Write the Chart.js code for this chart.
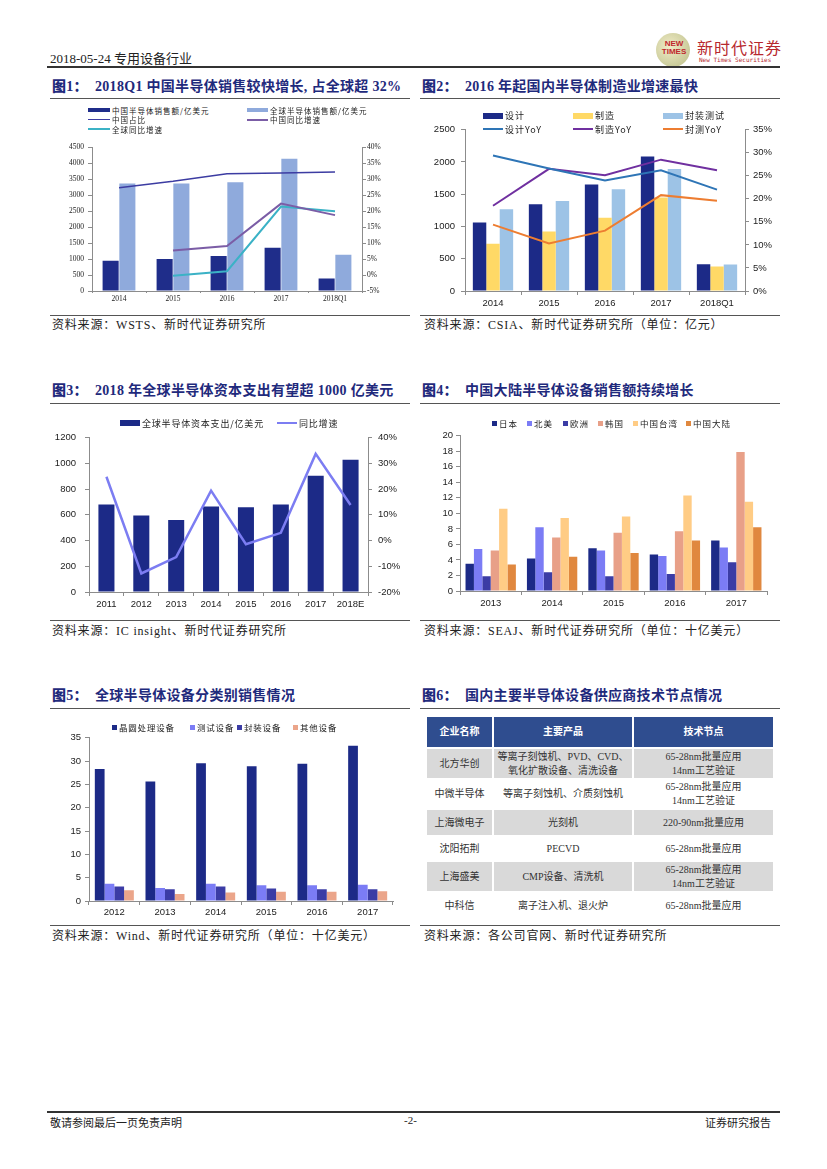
<!DOCTYPE html>
<html>
<head>
<meta charset="utf-8">
<script src="https://cdn.jsdelivr.net/npm/chart.js@4.4.0/dist/chart.umd.min.js"></script>
<style>
  body { margin: 0; background: #fff; }
  #page { position: relative; width: 827px; height: 1169px; overflow: hidden;
          font-family: "Liberation Serif", "Noto Sans CJK SC", serif; color: #222; }
  canvas { position: absolute; }
  .title { position: absolute; font-weight: bold; font-size: 14px; color: #1f2a7c;
           letter-spacing: 0.3px; white-space: nowrap; line-height: 18px; }
  .title b { display: inline-block; width: 43px; }
  .rule { position: absolute; border-top: 1.5px solid #555; height: 0; }
  .src { position: absolute; font-size: 12px; letter-spacing: 0.8px; white-space: nowrap; line-height: 16px; }
  .lg { position: absolute; left: 0; top: 0; }
  .lg .it { position: absolute; display: flex; align-items: center; white-space: nowrap;
            font-family: "Noto Sans CJK SC", sans-serif; color: #222; }
  .lg .it i { display: inline-block; margin-right: 2px; }
  #tbl { position: absolute; left: 425px; top: 715px; border-collapse: collapse; table-layout: fixed;
         font-family: "Liberation Serif", "Noto Sans CJK SC", serif; font-size: 10px; }
  #tbl td, #tbl th { border: 2px solid #fff; padding: 0; text-align: center; line-height: 14px; color: #333; }
  #tbl th { background: #2f4d8f; color: #fff; font-weight: bold; }
  #tbl tr.g td { background: #d9d9d9; }
</style>
</head>
<body>
<div id="page">
  <!-- 页眉 -->
  <div style="position:absolute;left:50px;top:48px;font-size:13px;">2018-05-24 专用设备行业</div>
  <div style="position:absolute;left:656px;top:33px;width:34px;height:34px;border-radius:50%;
       background:radial-gradient(circle at 40% 40%,#f1ecc8,#b9bd86);"></div>
  <div style="position:absolute;left:657px;top:40px;width:34px;font:bold 8px 'Liberation Sans';color:#c0272d;line-height:8px;text-align:center;">NEW<br>TIMES</div>
  <div style="position:absolute;left:697px;top:35px;font-size:16px;color:#b7282e;letter-spacing:1px;font-family:'Noto Sans CJK SC';">新时代证券</div>
  <div style="position:absolute;left:699px;top:56px;font:6px 'DejaVu Sans Mono';color:#b7282e;">New Times Securities</div>
  <div class="rule" style="left:47px;top:66px;width:733px;border-top:2px solid #333;"></div>

  <!-- 标题 -->
  <div class="title" style="left:52px;top:78px;"><b>图1：</b>2018Q1 中国半导体销售较快增长, 占全球超 32%</div>
  <div class="title" style="left:422px;top:78px;"><b>图2：</b>2016 年起国内半导体制造业增速最快</div>
  <div class="title" style="left:52px;top:382px;"><b>图3：</b>2018 年全球半导体资本支出有望超 1000 亿美元</div>
  <div class="title" style="left:422px;top:382px;"><b>图4：</b>中国大陆半导体设备销售额持续增长</div>
  <div class="title" style="left:52px;top:687px;"><b>图5：</b>全球半导体设备分类别销售情况</div>
  <div class="title" style="left:422px;top:687px;"><b>图6：</b>国内主要半导体设备供应商技术节点情况</div>
  <div class="rule" style="left:50px;top:98px;width:360px;"></div>
  <div class="rule" style="left:420px;top:98px;width:360px;"></div>
  <div class="rule" style="left:50px;top:403px;width:360px;"></div>
  <div class="rule" style="left:420px;top:403px;width:360px;"></div>
  <div class="rule" style="left:50px;top:708px;width:360px;"></div>
  <div class="rule" style="left:420px;top:708px;width:360px;"></div>

  <canvas id="c1" width="352" height="166" style="left:50px;top:139px;"></canvas>
  <canvas id="c2" width="360" height="191" style="left:420px;top:118px;"></canvas>
  <canvas id="c3" width="360" height="187" style="left:50px;top:423px;"></canvas>
  <canvas id="c4" width="357" height="182" style="left:420px;top:427px;"></canvas>
  <canvas id="c5" width="353" height="191" style="left:50px;top:728px;"></canvas>
  <div class="lg" id="lg1"></div>
  <div class="lg" id="lg2"></div>
  <div class="lg" id="lg3"></div>
  <div class="lg" id="lg4"></div>
  <div class="lg" id="lg5"></div>

  <table id="tbl">
    <colgroup><col style="width:67px"><col style="width:140px"><col style="width:141px"></colgroup>
    <tr style="height:32px"><th>企业名称</th><th>主要产品</th><th>技术节点</th></tr>
    <tr class="g" style="height:31px"><td>北方华创</td><td>等离子刻蚀机、PVD、CVD、<br>氧化扩散设备、清洗设备</td><td>65-28nm批量应用<br>14nm工艺验证</td></tr>
    <tr style="height:30px"><td>中微半导体</td><td>等离子刻蚀机、介质刻蚀机</td><td>65-28nm批量应用<br>14nm工艺验证</td></tr>
    <tr class="g" style="height:27px"><td>上海微电子</td><td>光刻机</td><td>220-90nm批量应用</td></tr>
    <tr style="height:25px"><td>沈阳拓荆</td><td>PECVD</td><td>65-28nm批量应用</td></tr>
    <tr class="g" style="height:31px"><td>上海盛美</td><td>CMP设备、清洗机</td><td>65-28nm批量应用<br>14nm工艺验证</td></tr>
    <tr style="height:27px"><td>中科信</td><td>离子注入机、退火炉</td><td>65-28nm批量应用</td></tr>
  </table>

  <!-- 资料来源 -->
  <div class="rule" style="left:50px;top:315px;width:360px;"></div>
  <div class="rule" style="left:420px;top:315px;width:360px;"></div>
  <div class="src" style="left:52px;top:317px;">资料来源：WSTS、新时代证券研究所</div>
  <div class="src" style="left:424px;top:317px;">资料来源：CSIA、新时代证券研究所（单位：亿元）</div>
  <div class="rule" style="left:50px;top:620px;width:360px;"></div>
  <div class="rule" style="left:420px;top:620px;width:360px;"></div>
  <div class="src" style="left:52px;top:623px;">资料来源：IC insight、新时代证券研究所</div>
  <div class="src" style="left:424px;top:623px;">资料来源：SEAJ、新时代证券研究所（单位：十亿美元）</div>
  <div class="rule" style="left:50px;top:925px;width:360px;"></div>
  <div class="rule" style="left:420px;top:925px;width:360px;"></div>
  <div class="src" style="left:52px;top:928px;">资料来源：Wind、新时代证券研究所（单位：十亿美元）</div>
  <div class="src" style="left:424px;top:928px;">资料来源：各公司官网、新时代证券研究所</div>

  <!-- 页脚 -->
  <div class="rule" style="left:47px;top:1111px;width:733px;border-top:2px solid #333;"></div>
  <div style="position:absolute;left:50px;top:1114px;font-size:11px;">敬请参阅最后一页免责声明</div>
  <div style="position:absolute;left:404px;top:1114px;font-size:11px;">-2-</div>
  <div style="position:absolute;left:705px;top:1114px;font-size:11px;">证券研究报告</div>
</div>

<script>
// 图1 数据
const years1 = ['2014', '2015', '2016', '2017', '2018Q1'];
const chinaSales = [952, 1003, 1097, 1355, 393];
const globalSales = [3372, 3372, 3414, 4148, 1138];
const chinaShare = [27.4, 29.4, 31.8, 32.0, 32.3];
const chinaYoY = [null, 7.7, 9.1, 22.4, 18.8];
const globalYoY = [null, -0.2, 1.2, 21.5, 20.0];

// 图2 数据
const years2 = ['2014', '2015', '2016', '2017', '2018Q1'];
const design = [1061, 1343, 1652, 2086, 414];
const manufacture = [732, 924, 1136, 1450, 379];
const packTest = [1268, 1394, 1576, 1890, 412];
const designYoY = [29.4, 26.6, 24.0, 26.2, 22.0];
const manufactureYoY = [18.5, 26.5, 25.1, 28.5, 26.2];
const packTestYoY = [14.4, 10.3, 13.1, 20.8, 19.6];

// 图3 数据
const years3 = ['2011', '2012', '2013', '2014', '2015', '2016', '2017', '2018E'];
const capex = [680, 595, 560, 665, 660, 680, 904, 1028];
const capexYoY = [24.8, -12.8, -6.4, 19.4, -1.4, 3.0, 33.7, 13.8];

// 图4 数据
const years4 = ['2013', '2014', '2015', '2016', '2017'];
const japan = [3.5, 4.2, 5.5, 4.7, 6.5];
const northAmerica = [5.4, 8.2, 5.2, 4.5, 5.6];
const europe = [1.9, 2.4, 1.9, 2.2, 3.7];
const korea = [5.2, 6.9, 7.5, 7.7, 17.9];
const taiwan = [10.6, 9.4, 9.6, 12.3, 11.5];
const mainland = [3.4, 4.4, 4.9, 6.5, 8.2];

// 图5 数据
const years5 = ['2012', '2013', '2014', '2015', '2016', '2017'];
const waferEquip = [28.3, 25.6, 29.5, 28.9, 29.4, 33.3];
const testEquip = [3.7, 2.8, 3.7, 3.4, 3.4, 3.5];
const packEquip = [3.1, 2.5, 3.1, 2.7, 2.5, 2.5];
const otherEquip = [2.3, 1.5, 1.8, 2.0, 2.0, 2.1];

Chart.defaults.animation = false;
Chart.defaults.color = '#222';
Chart.defaults.font.family = '"Liberation Sans", Arial, sans-serif';
Chart.defaults.plugins.legend.display = false;
Chart.defaults.plugins.tooltip.enabled = false;

// 坐标轴通用设置
function axis(o) {
  return {
    min: o.min, max: o.max,
    position: o.position || 'left',
    border: { display: true, color: '#8c8c8c', width: 1 },
    grid: { drawOnChartArea: false, drawTicks: true, tickLength: 4, color: '#8c8c8c' },
    ticks: { stepSize: o.step, padding: o.pad, font: o.font, color: '#222', autoSkip: false,
             callback: v => o.pct ? v + '%' : String(v) },
    afterFit: s => { s.width = o.width; }
  };
}
function xAxis(font, h, tick, pad) {
  return {
    border: { display: true, color: '#8c8c8c', width: 1 },
    grid: { drawOnChartArea: false, drawTicks: true, tickLength: tick, color: '#8c8c8c', offset: true },
    ticks: { font: font, padding: pad, color: '#222', maxRotation: 0, autoSkip: false },
    afterFit: s => { s.height = h; }
  };
}

// HTML 图例，文字与颜色取自数据集
function leyenda(chart, id, pos, fontSize) {
  const el = document.getElementById(id);
  el.innerHTML = chart.data.datasets.map((d, i) => {
    const p = pos[i];
    const color = d.type === 'line' ? d.borderColor : d.backgroundColor;
    return `<span class="it" style="left:${p.x}px;top:${p.y - 8}px;height:16px;font-size:${fontSize}px;letter-spacing:${p.ls || 0}px">
      <i style="width:${p.w}px;height:${p.h}px;background:${color}"></i>${d.label}</span>`;
  }).join('');
}

// 图1
const serif7 = { family: '"Liberation Serif", serif', size: 7.5 };
const chart1 = new Chart(document.getElementById('c1'), {
  type: 'bar',
  data: {
    labels: years1,
    datasets: [
      { label: '中国半导体销售额/亿美元', data: chinaSales, backgroundColor: '#1f2d8a', yAxisID: 'y', order: 2,
        categoryPercentage: 0.62, barPercentage: 0.96 },
      { label: '全球半导体销售额/亿美元', data: globalSales, backgroundColor: '#8faadc', yAxisID: 'y', order: 2,
        categoryPercentage: 0.62, barPercentage: 0.96 },
      { type: 'line', label: '中国占比', data: chinaShare, borderColor: '#3c3ca2', borderWidth: 1.5,
        pointRadius: 0, yAxisID: 'y1', order: 1 },
      { type: 'line', label: '中国同比增速', data: chinaYoY, borderColor: '#7b5da6', borderWidth: 2,
        pointRadius: 0, yAxisID: 'y1', order: 1 },
      { type: 'line', label: '全球同比增速', data: globalYoY, borderColor: '#3bb2c6', borderWidth: 2,
        pointRadius: 0, yAxisID: 'y1', order: 1 }
    ]
  },
  options: {
    responsive: false,
    layout: { padding: { top: 8, left: 0, right: 0, bottom: 0 } },
    scales: {
      x: xAxis(serif7, 14, 2, 2),
      y: axis({ min: 0, max: 4500, step: 500, width: 42, pad: 4, font: serif7 }),
      y1: axis({ min: -5, max: 40, step: 5, width: 40, pad: 1, font: serif7, pct: true, position: 'right' })
    }
  }
});
leyenda(chart1, 'lg1', [
  { x: 88, y: 110, w: 22, h: 4, ls: 1 },
  { x: 247, y: 110, w: 21, h: 4, ls: 1 },
  { x: 88, y: 119.5, w: 22, h: 1.5, ls: 1 },
  { x: 247, y: 119.5, w: 21, h: 2, ls: 1 },
  { x: 88, y: 129, w: 22, h: 2, ls: 1 }
], 7.5);

// 图2
const sans9 = { size: 9.5 };
const chart2 = new Chart(document.getElementById('c2'), {
  type: 'bar',
  data: {
    labels: years2,
    datasets: [
      { label: '设计', data: design, backgroundColor: '#1c2a87', yAxisID: 'y', order: 2,
        categoryPercentage: 0.72, barPercentage: 1 },
      { label: '制造', data: manufacture, backgroundColor: '#ffd966', yAxisID: 'y', order: 2,
        categoryPercentage: 0.72, barPercentage: 1 },
      { label: '封装测试', data: packTest, backgroundColor: '#9dc3e6', yAxisID: 'y', order: 2,
        categoryPercentage: 0.72, barPercentage: 1 },
      { type: 'line', label: '设计YoY', data: designYoY, borderColor: '#2e75b6', borderWidth: 2,
        pointRadius: 0, yAxisID: 'y1', order: 1 },
      { type: 'line', label: '制造YoY', data: manufactureYoY, borderColor: '#7030a0', borderWidth: 2,
        pointRadius: 0, yAxisID: 'y1', order: 1 },
      { type: 'line', label: '封测YoY', data: packTestYoY, borderColor: '#ed7d31', borderWidth: 2,
        pointRadius: 0, yAxisID: 'y1', order: 1 }
    ]
  },
  options: {
    responsive: false,
    layout: { padding: { top: 8, left: 0, right: 0, bottom: 0 } },
    scales: {
      x: xAxis(sans9, 18, 4, 3),
      y: axis({ min: 0, max: 2500, step: 500, width: 45, pad: 6, font: sans9 }),
      y1: axis({ min: 0, max: 35, step: 5, width: 35, pad: 4, font: sans9, pct: true, position: 'right' })
    }
  }
});
leyenda(chart2, 'lg2', [
  { x: 483, y: 115.5, w: 20, h: 6, ls: 1 },
  { x: 573, y: 115.5, w: 20, h: 6, ls: 1 },
  { x: 663, y: 115.5, w: 20, h: 6, ls: 1 },
  { x: 483, y: 129, w: 20, h: 2, ls: 1 },
  { x: 573, y: 129, w: 20, h: 2, ls: 1 },
  { x: 663, y: 129, w: 20, h: 2, ls: 1 }
], 9);

// 图3
const chart3 = new Chart(document.getElementById('c3'), {
  type: 'bar',
  data: {
    labels: years3,
    datasets: [
      { label: '全球半导体资本支出/亿美元', data: capex, backgroundColor: '#1c2a87', yAxisID: 'y', order: 2,
        categoryPercentage: 1, barPercentage: 0.46 },
      { type: 'line', label: '同比增速', data: capexYoY, borderColor: '#7c7df2', borderWidth: 2.5,
        pointRadius: 0, yAxisID: 'y1', order: 1 }
    ]
  },
  options: {
    responsive: false,
    layout: { padding: { top: 8, left: 0, right: 0, bottom: 0 } },
    scales: {
      x: xAxis(sans9, 18, 4, 3),
      y: axis({ min: 0, max: 1200, step: 200, width: 39, pad: 9, font: sans9 }),
      y1: axis({ min: -20, max: 40, step: 10, width: 42, pad: 6, font: sans9, pct: true, position: 'right' })
    }
  }
});
leyenda(chart3, 'lg3', [
  { x: 120, y: 423, w: 20, h: 6, ls: 0.8 },
  { x: 277, y: 423, w: 20, h: 2.5, ls: 0.8 }
], 9);

// 图4
const cp4 = { categoryPercentage: 0.82, barPercentage: 1 };
const chart4 = new Chart(document.getElementById('c4'), {
  type: 'bar',
  data: {
    labels: years4,
    datasets: [
      { label: '日本', data: japan, backgroundColor: '#1c2a87', ...cp4 },
      { label: '北美', data: northAmerica, backgroundColor: '#7b7cf5', ...cp4 },
      { label: '欧洲', data: europe, backgroundColor: '#3b3ca5', ...cp4 },
      { label: '韩国', data: korea, backgroundColor: '#e8a088', ...cp4 },
      { label: '中国台湾', data: taiwan, backgroundColor: '#ffcc85', ...cp4 },
      { label: '中国大陆', data: mainland, backgroundColor: '#e0883f', ...cp4 }
    ]
  },
  options: {
    responsive: false,
    layout: { padding: { top: 8, left: 0, right: 10, bottom: 0 } },
    scales: {
      x: xAxis(sans9, 18, 4, 3),
      y: axis({ min: 0, max: 20, step: 2, width: 40, pad: 3, font: sans9 })
    }
  }
});
leyenda(chart4, 'lg4', [
  { x: 492, y: 423, w: 5, h: 5, ls: 1 },
  { x: 527, y: 423, w: 5, h: 5, ls: 1 },
  { x: 563, y: 423, w: 5, h: 5, ls: 1 },
  { x: 598, y: 423, w: 5, h: 5, ls: 1 },
  { x: 633, y: 423, w: 5, h: 5, ls: 1 },
  { x: 686, y: 423, w: 5, h: 5, ls: 1 }
], 8.5);

// 图5
const cp5 = { categoryPercentage: 0.77, barPercentage: 1 };
const chart5 = new Chart(document.getElementById('c5'), {
  type: 'bar',
  data: {
    labels: years5,
    datasets: [
      { label: '晶圆处理设备', data: waferEquip, backgroundColor: '#1c2a87', ...cp5 },
      { label: '测试设备', data: testEquip, backgroundColor: '#7b7cf5', ...cp5 },
      { label: '封装设备', data: packEquip, backgroundColor: '#3b3ca5', ...cp5 },
      { label: '其他设备', data: otherEquip, backgroundColor: '#eba58a', ...cp5 }
    ]
  },
  options: {
    responsive: false,
    layout: { padding: { top: 8, left: 0, right: 10, bottom: 0 } },
    scales: {
      x: xAxis(sans9, 18, 4, 2),
      y: axis({ min: 0, max: 35, step: 5, width: 39, pad: 4, font: sans9 })
    }
  }
});
leyenda(chart5, 'lg5', [
  { x: 112, y: 727, w: 5, h: 5, ls: 0.8 },
  { x: 190, y: 727, w: 5, h: 5, ls: 0.8 },
  { x: 237, y: 727, w: 5, h: 5, ls: 0.8 },
  { x: 293, y: 727, w: 5, h: 5, ls: 0.8 }
], 8.5);
</script>
</body>
</html>
